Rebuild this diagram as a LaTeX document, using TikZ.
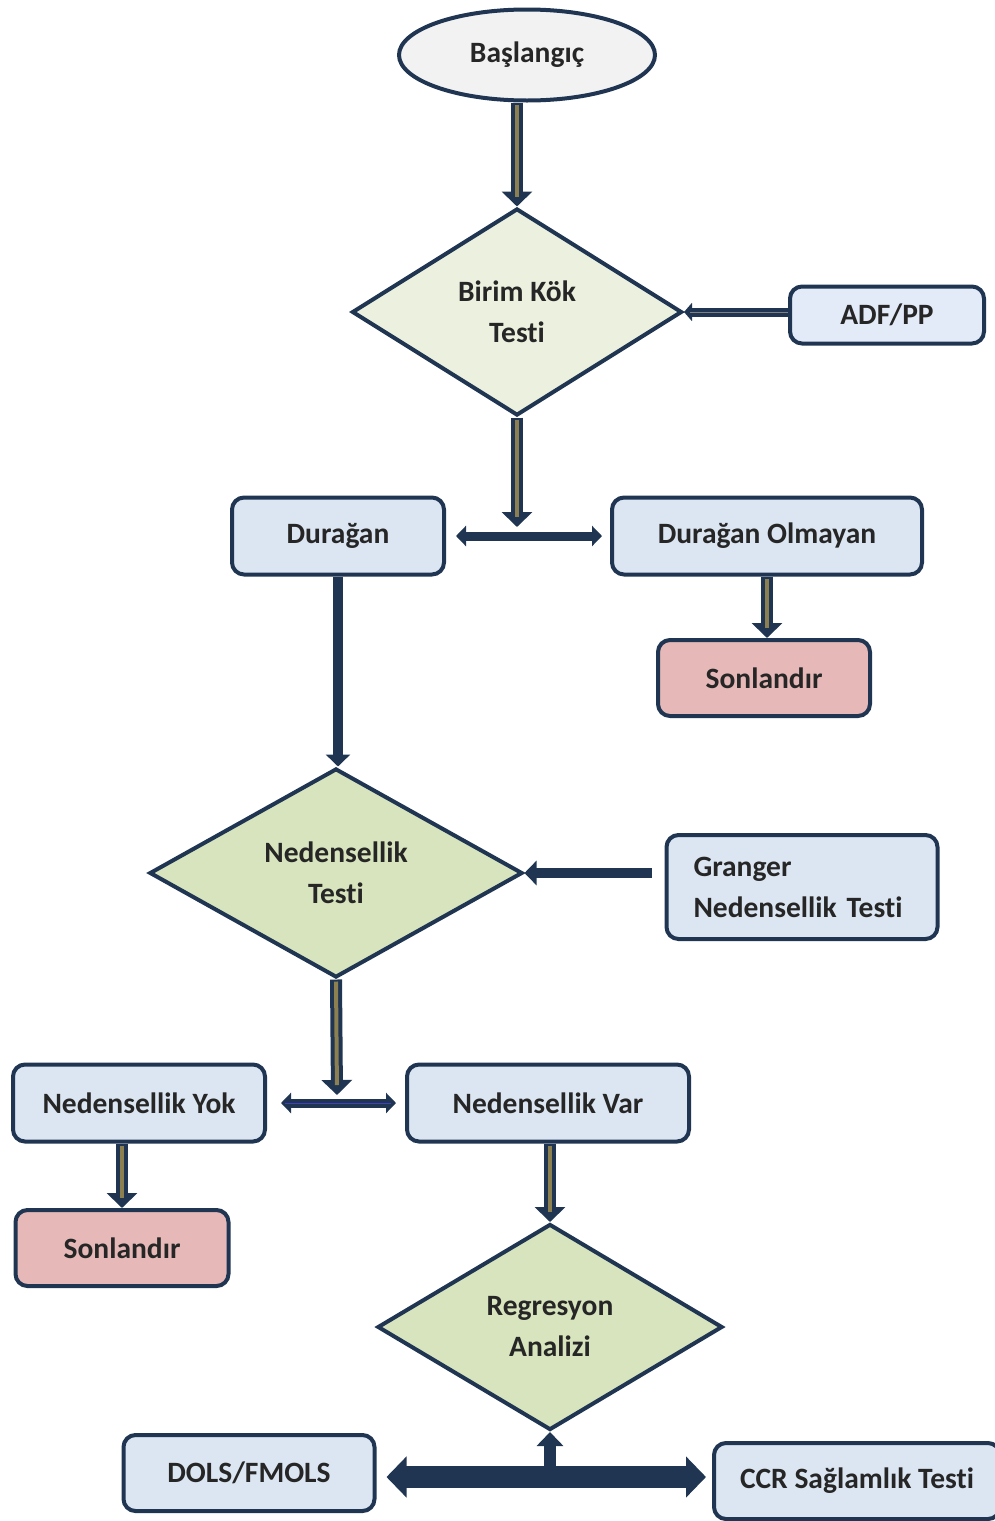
\documentclass[tikz,border=0pt]{standalone}
\usepackage{fontspec}
\setmainfont{Carlito}[Ligatures=NoCommon]
\usetikzlibrary{shapes.geometric,arrows.meta}

\definecolor{navy}{HTML}{1F3552}
\definecolor{olivefill}{HTML}{8C8051}
\definecolor{boxblue}{HTML}{DCE6F2}
\definecolor{lightblue}{HTML}{E4EBF8}
\definecolor{palegreen}{HTML}{EBF1DE}
\definecolor{leafgreen}{HTML}{D7E4BD}
\definecolor{rosefill}{HTML}{E6B9B8}
\definecolor{greyfill}{HTML}{F2F2F2}
\definecolor{textgrey}{HTML}{262626}

\tikzset{
  olivearrow/.style={draw=navy,line width=12pt,-{Triangle[width=30pt,length=15pt]},
    postaction={draw=olivefill,line width=4pt,-,shorten >=10pt,shorten <=2pt}},
  navyarrow/.style={draw=navy,line width=10pt,-{Triangle[width=24pt,length=12pt]}},
  twoway/.style={draw=navy,line width=9pt,{Triangle[width=20pt,length=10pt]}-{Triangle[width=20pt,length=10pt]}},
}

\begin{document}
\begin{tikzpicture}[x=1pt,y=-1pt]

      \useasboundingbox (0,0) rectangle (994,1521);

      \begin{scope}[every node/.style={draw=navy,line width=4pt,text=textgrey,inner sep=0pt,
          font=\fontsize{29.5}{41}\selectfont\bfseries,align=center}]
        \node[ellipse,fill=greyfill,minimum width=256pt,minimum height=91pt] (start) at (527,55) {Başlangıç};
        \node[diamond,fill=palegreen,minimum width=330pt,minimum height=207pt] (birim) at (517,312) {Birim Kök\\Testi};
        \node[diamond,fill=leafgreen,minimum width=373pt,minimum height=209pt] (neden) at (336,873) {Nedensellik\\Testi};
        \node[diamond,fill=leafgreen,minimum width=345pt,minimum height=206pt] (regres) at (550,1327) {Regresyon\\Analizi};
      \end{scope}

      \begin{scope}[every node/.style={draw=navy,line width=4pt,rounded corners=12pt,fill=boxblue,
          text=textgrey,inner sep=0pt,font=\fontsize{29.5}{41}\selectfont\bfseries}]
        \node[fill=lightblue,minimum width=194pt,minimum height=57pt] (adf) at (887,315) {ADF/PP};
        \node[minimum width=212pt,minimum height=77pt] (duragan) at (338,536) {Durağan};
        \node[minimum width=310pt,minimum height=77pt] (olmayan) at (767,536) {Durağan Olmayan};
        \node[fill=rosefill,minimum width=212pt,minimum height=76pt] (son1) at (764,678) {Sonlandır};
        \node[align=left,text width=217pt,inner xsep=27pt,minimum height=104pt] (granger) at (802,887) {Granger\\Nedensellik Testi};
        \node[minimum width=252pt,minimum height=77pt] (yok) at (139,1103) {Nedensellik Yok};
        \node[minimum width=282pt,minimum height=77pt] (var) at (548,1103) {Nedensellik Var};
        \node[fill=rosefill,minimum width=213pt,minimum height=76pt] (son2) at (122,1248) {Sonlandır};
        \node[minimum width=251pt,minimum height=76pt] (dols) at (249,1473) {DOLS/FMOLS};
        \node[minimum width=286pt,minimum height=76pt] (ccr) at (857,1481) {CCR Sağlamlık Testi};
      \end{scope}

      \coordinate (j1) at (517,527);
      \coordinate (j2) at (337,1095);
      \coordinate (j3) at (550,1477);

      \begin{scope}[every edge/.style={olivearrow}]
        \path (start.south -| birim.north) edge (birim.north);
        \path (birim.south) edge (j1);
        \path (olmayan.south) edge (olmayan.south |- son1.north);
        \path (neden.south) edge (j2);
        \path (yok.south -| son2.north) edge (son2.north);
        \path (var.south -| regres.north) edge (regres.north);
      \end{scope}

      \begin{scope}[every edge/.style={navyarrow}]
        \path (duragan.south) edge (duragan.south |- neden.north);
        \path (granger.west |- neden.east) edge[shorten <=13pt] (neden.east);
        \path (adf.west |- birim.east) edge[line width=9pt,-{Triangle[width=18pt,length=8pt]},
          postaction={draw=gray,line width=1pt,-,shorten >=6pt}] (birim.east);
        \path (j3) edge[line width=12pt,-{Triangle[width=26pt,length=14pt]}] (regres.south);
      \end{scope}

      \begin{scope}[every edge/.style={twoway}]
        \path (duragan.east) edge[shorten <=10pt,shorten >=8pt] (olmayan.west);
        \path (yok.east) edge[shorten <=14pt,shorten >=9pt,
          postaction={draw=blue!50!gray,line width=1pt,-,shorten <=18pt,shorten >=14pt}] (var.west);
        \path (dols.east |- j3) edge[line width=22pt,shorten <=10pt,shorten >=6pt,
          {Triangle[width=40pt,length=20pt]}-{Triangle[width=40pt,length=20pt]}] (ccr.west |- j3);
      \end{scope}

    \end{tikzpicture}
\end{document}
